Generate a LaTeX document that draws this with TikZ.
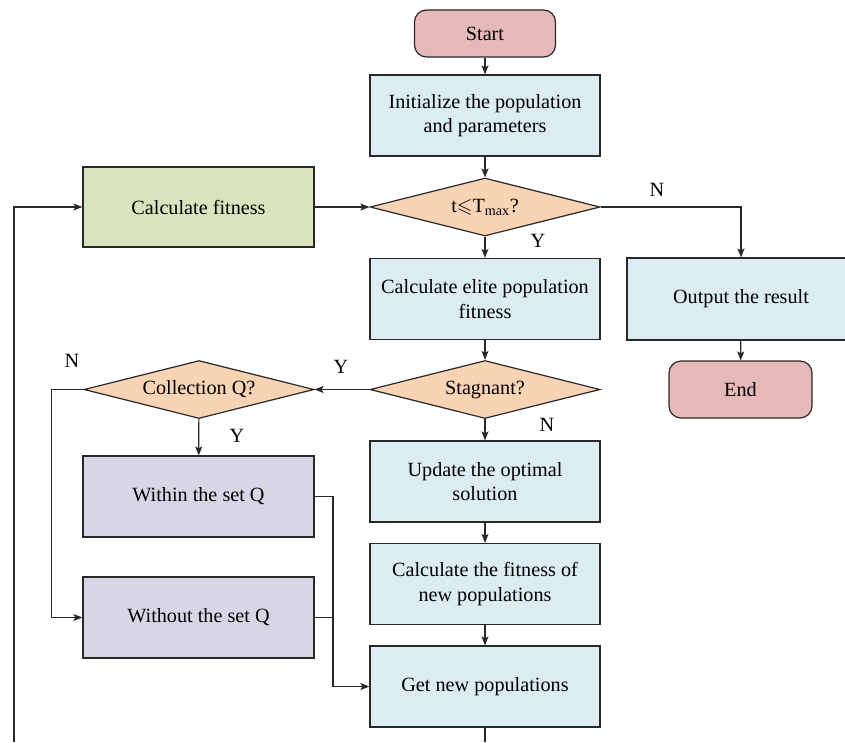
\documentclass[tikz,border=0pt]{standalone}
\usepackage{amssymb}
\usepackage{fontspec}
\setmainfont{Liberation Serif}
\usetikzlibrary{shapes.geometric,arrows.meta}

\definecolor{termpink}{RGB}{228,185,183}
\definecolor{procblue}{RGB}{219,236,242}
\definecolor{fitgreen}{RGB}{215,228,189}
\definecolor{decorange}{RGB}{248,211,180}
\definecolor{setpurple}{RGB}{218,213,230}
\definecolor{edgegray}{RGB}{40,40,40}

\begin{document}
\begin{tikzpicture}[x=1pt,y=-1pt]
        \tikzstyle{every node}=[font=\fontsize{20.2}{24.5}\selectfont]
        \tikzstyle{process}=[rectangle,draw=edgegray,line width=1.2pt,fill=procblue,minimum width=230pt,minimum height=81pt,align=center,inner sep=0pt]
        \tikzstyle{terminal}=[rectangle,rounded corners=12pt,draw=edgegray,line width=1.2pt,fill=termpink,minimum width=141pt,minimum height=47pt,inner sep=0pt]
        \tikzstyle{decision}=[diamond,aspect=4,draw=edgegray,line width=1.2pt,fill=decorange,minimum width=230pt,minimum height=58pt,inner sep=0pt]
        \tikzstyle{arrow}=[line width=1.2pt,draw=edgegray,-{Stealth[length=9pt,width=7pt,inset=2pt]}]
        \tikzstyle{line}=[line width=1.2pt,draw=edgegray]
        \tikzstyle{lab}=[inner sep=0pt]
        \useasboundingbox (0,0) rectangle (845,742);
        \clip (0,0) rectangle (845,742);
        % main column
        \node[terminal] (start) at (485,33.5) {Start};
        \node[process] (init) at (485,115.5) {Initialize the population\\and parameters};
        \node[decision] (tmax) at (485,207) {t$\leqslant$T\textsubscript{max}?};
        \node[process] (elite) at (485,299) {Calculate elite population\\fitness};
        \node[decision] (stag) at (485,389.5) {Stagnant?};
        \node[process] (update) at (485,481.5) {Update the optimal\\solution};
        \node[process] (newfit) at (485,584) {Calculate the fitness of\\new populations};
        \node[process] (newpop) at (485,686.5) {Get new populations};
        % left column
        \node[process,fill=fitgreen,minimum width=231pt,minimum height=80pt] (fit) at (198.5,207) {Calculate fitness};
        \node[decision] (coll) at (199,389.5) {Collection Q?};
        \node[process,fill=setpurple,minimum width=231pt] (within) at (198.5,496.5) {Within the set Q};
        \node[process,fill=setpurple,minimum width=231pt] (without) at (198.5,617.5) {Without the set Q};
        % right column
        \node[process,minimum width=228pt,minimum height=82pt] (out) at (741,299) {Output the result};
        \node[terminal,minimum width=143pt,minimum height=57pt] (finish) at (740.5,389.5) {End};
        % labels
        \node[lab] (ln1) at (657,190) {N};
        \node[lab] (ly1) at (538,241) {Y};
        \node[lab] (ly2) at (341,367) {Y};
        \node[lab] (ln2) at (547,425) {N};
        \node[lab] (ly3) at (237,436) {Y};
        \node[lab] (ln3) at (72,361) {N};
        % connectors
        \coordinate (merge) at (333,686.5);
        \coordinate (bottom) at (485,742);
        \coordinate (loop) at (14,742);
        \draw[arrow] (start) -- (init);
        \draw[arrow] (init) -- (tmax);
        \draw[arrow] (fit) -- (tmax);
        \draw[arrow] (tmax.east) -| (out);
        \draw[arrow] (tmax) -- (elite);
        \draw[arrow] (out) -- (finish);
        \draw[arrow] (elite) -- (stag);
        \draw[arrow] (stag) -- (coll);
        \draw[arrow] (stag) -- (update);
        \draw[arrow] (coll) -- (within);
        \draw[arrow] (coll.west) -- ++(-32,0) |- (without);
        \draw[line] (within.east) -| (merge);
        \draw[line] (without.east) -| (merge);
        \draw[arrow] (merge) -- (newpop);
        \draw[arrow] (update) -- (newfit);
        \draw[arrow] (newfit) -- (newpop);
        \draw[line] (newpop) -- (bottom);
        \draw[arrow] (loop) |- (fit);
\end{tikzpicture}
\end{document}
